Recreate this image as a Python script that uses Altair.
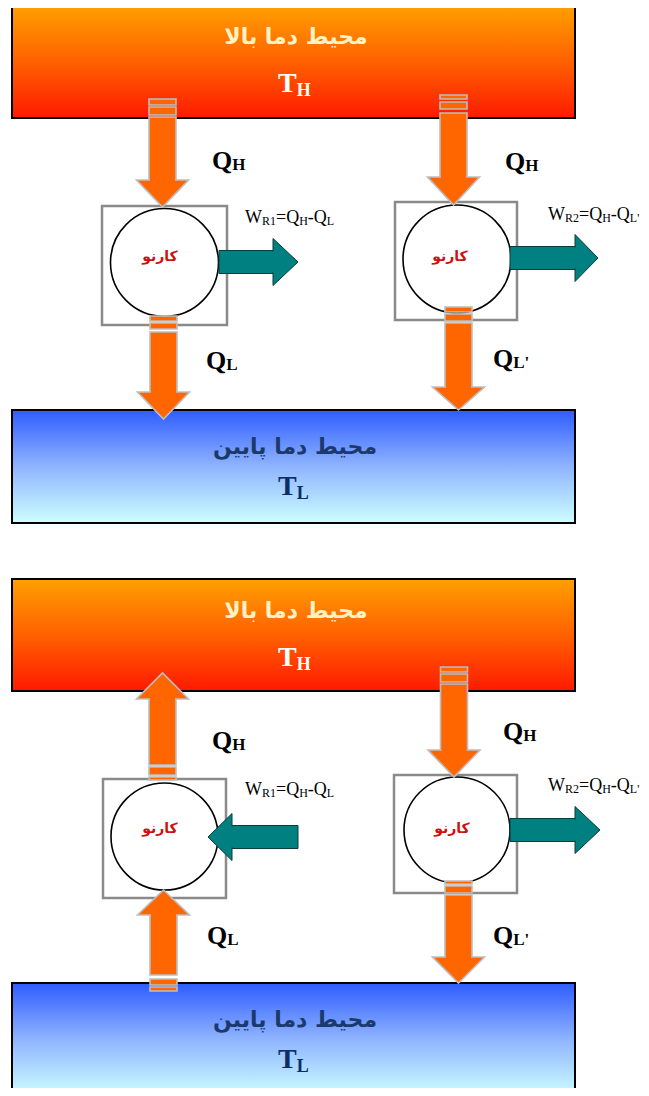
import altair as alt
import pandas as pd

# ---------------- canvas (pixel coordinates of the picture) ----------------
CANVAS_W, CANVAS_H, MARGIN = 649, 1096, 8

# ---------------- reservoirs ----------------
res_x1 = [12, 12, 12, 12]
res_x2 = [575, 575, 575, 575]
res_y1 = [5, 410, 579, 983]
res_y2 = [118, 523, 691, 1096]
res_kind = ["hot", "cold", "hot", "cold"]
res_title = {"hot": "محیط دما بالا", "cold": "محیط دما پایین"}
res_title_y = [37, 447, 611, 1020]
res_title_x = [296, 295, 296, 295]
res_T_sub = ["H", "L", "H", "L"]
res_T_x = [278, 278, 278, 278]
res_T_base = [92, 495, 666, 1068]

# ---------------- engines (box + circle) ----------------
box_x1 = [102, 395, 103, 394]
box_x2 = [227, 517, 226, 517]
box_y1 = [206, 202, 779, 775]
box_y2 = [325, 320, 898, 893]
circ_cx = [164.5, 457, 164.5, 457]
circ_cy = [262.5, 259, 836.5, 830]
circ_d = [108, 108, 107, 106]
carnot_x = [160, 450, 160, 452]
carnot_y = [257, 257, 829, 829]
carnot_text = "کارنو"

# ---------------- heat arrows (orange, vertical) ----------------
q_cx = [162.5, 163.5, 453.5, 458.5, 162.5, 163.5, 454, 458.5]
q_tail = [117, 332, 113, 323, 765, 975, 684, 895]
q_base = [180, 392, 177, 387, 699, 915, 750, 957]
q_tip = [207, 419, 205, 410, 673, 890, 777, 983]
q_stripes = [
    [(99, 105), (107, 115)],
    [(316, 321), (323, 329)],
    [(95, 99), (102, 109)],
    [(307, 312), (314, 321)],
    [(767, 775), (777, 780)],
    [(979, 985), (987, 991)],
    [(667, 672), (674, 682)],
    [(881, 884), (886, 893)],
]
Q_SHAFT_HALF, Q_HEAD_HALF = 13.5, 26

# ---------------- work arrows (teal, horizontal) ----------------
w_cy = [262, 258, 837, 830]
w_tail = [219, 510, 298, 510]
w_base = [273, 575, 232, 575]
w_tip = [298, 598, 208, 600]
W_SHAFT_HALF, W_HEAD_HALF = 11.5, 23.5

# ---------------- labels ----------------
ql_x = [212, 206, 505, 493, 212, 207, 503, 493]
ql_base = [169, 369, 170, 367, 749, 944, 740, 944]
ql_sub = ["H", "L", "H", "L'", "H", "L", "H", "L'"]
wl_x = [245, 548, 245, 548]
wl_base = [223, 220, 795, 791]
wl_idx = ["R1", "R2", "R1", "R2"]
wl_last = ["L", "L'", "L", "L'"]

ORANGE, GREY = "#FF6600", "#BDBDBD"
TEAL, TEAL_EDGE = "#008080", "#0A3C3C"

# ---------------- build tables ----------------
res_df = pd.DataFrame(dict(x=res_x1, x2=res_x2, y=res_y1, y2=res_y2, kind=res_kind))
hot_df = res_df[res_df.kind == "hot"]
cold_df = res_df[res_df.kind == "cold"]

box_df = pd.DataFrame(dict(x=box_x1, x2=box_x2, y=box_y1, y2=box_y2))
circ_df = pd.DataFrame(dict(x=circ_cx, y=circ_cy, s=[d * d for d in circ_d]))
carnot_df = pd.DataFrame(dict(x=carnot_x, y=carnot_y, t=[carnot_text] * 4))

shaft_rows, stripe_rows, head_rows, patch_rows = [], [], [], []
for i, cx in enumerate(q_cx):
    shaft_rows.append(dict(x=cx - Q_SHAFT_HALF, x2=cx + Q_SHAFT_HALF,
                           y=min(q_tail[i], q_base[i]), y2=max(q_tail[i], q_base[i])))
    for a, b in q_stripes[i]:
        stripe_rows.append(dict(x=cx - Q_SHAFT_HALF, x2=cx + Q_SHAFT_HALF, y=a, y2=b))
    for dx, yy in [(-Q_HEAD_HALF, q_base[i]), (0, q_tip[i]), (Q_HEAD_HALF, q_base[i])]:
        head_rows.append(dict(id=i, x=cx + dx, y=q_base[i], y2=yy))
    patch_rows.append(dict(x=cx - Q_SHAFT_HALF + 1, x2=cx + Q_SHAFT_HALF - 1,
                           y=q_base[i] - 2, y2=q_base[i] + 2))
shaft_df = pd.DataFrame(shaft_rows)
stripe_df = pd.DataFrame(stripe_rows)
head_df = pd.DataFrame(head_rows)
patch_df = pd.DataFrame(patch_rows)

wshaft_rows, whead_rows, wpatch_rows = [], [], []
for i, cy in enumerate(w_cy):
    wshaft_rows.append(dict(x=min(w_tail[i], w_base[i]), x2=max(w_tail[i], w_base[i]),
                            y=cy - W_SHAFT_HALF, y2=cy + W_SHAFT_HALF))
    for dy, xx in [(-W_HEAD_HALF, w_base[i]), (0, w_tip[i]), (W_HEAD_HALF, w_base[i])]:
        whead_rows.append(dict(id=i, y=cy + dy, x=w_base[i], x2=xx))
    wpatch_rows.append(dict(x=w_base[i] - 2, x2=w_base[i] + 2,
                            y=cy - W_SHAFT_HALF + 1, y2=cy + W_SHAFT_HALF - 1))
wshaft_df = pd.DataFrame(wshaft_rows)
whead_df = pd.DataFrame(whead_rows)
wpatch_df = pd.DataFrame(wpatch_rows)

# text layout (Times-like advance widths, em units)
REG = {"W": .944, "R": .667, "1": .5, "2": .5, "=": .564, "Q": .722, "H": .722,
       "-": .333, "L": .611, "'": .18, "T": .611}
BOLD = {"Q": .778, "H": .778, "L": .667, "T": .667, "'": .278}


def lay(parts, x0, base, main, sub, bold, drop, color, rows):
    x = x0
    table = BOLD if bold else REG
    for txt, is_sub in parts:
        s = sub if is_sub else main
        rows.append(dict(x=x, y=base + (drop if is_sub else 0), t=txt, s=s, c=color))
        x += sum(table.get(ch, .5) for ch in txt) * s


bold_rows, reg_rows = [], []
for i in range(len(ql_x)):
    lay([("Q", False), (ql_sub[i], True)], ql_x[i], ql_base[i], 26, 17, True, 1, "#000000", bold_rows)
for i in range(len(res_T_x)):
    col = "#FFFFFF" if res_kind[i] == "hot" else "#0B2E66"
    lay([("T", False), (res_T_sub[i], True)], res_T_x[i], res_T_base[i], 28, 18, True, 4, col, bold_rows)
for i in range(len(wl_x)):
    lay([("W", False), (wl_idx[i], True), ("=Q", False), ("H", True), ("-Q", False), (wl_last[i], True)],
        wl_x[i], wl_base[i], 18, 12, False, 2, "#000000", reg_rows)
bold_df = pd.DataFrame(bold_rows)
reg_df = pd.DataFrame(reg_rows)

title_df = pd.DataFrame(dict(
    x=res_title_x, y=res_title_y, t=[res_title[k] for k in res_kind],
    c=["#FFF2C4" if k == "hot" else "#1B3A6B" for k in res_kind]))

# ---------------- scales: picture pixel == page pixel ----------------
PLOT_W = CANVAS_W - 2 * MARGIN
PLOT_H = CANVAS_H - 2 * MARGIN
XS = alt.Scale(domain=[MARGIN, MARGIN + PLOT_W], nice=False, zero=False)
YS = alt.Scale(domain=[MARGIN, MARGIN + PLOT_H], nice=False, zero=False, reverse=True)
X = alt.X("x:Q", scale=XS, axis=None)
Y = alt.Y("y:Q", scale=YS, axis=None)


def rects(df, **mark):
    return alt.Chart(df).mark_rect(**mark).encode(x=X, x2="x2:Q", y=Y, y2="y2:Q")


hot_grad = alt.Gradient(gradient="linear", x1=0, x2=0, y1=0, y2=1,
                        stops=[alt.GradientStop(color="#FFA000", offset=0),
                               alt.GradientStop(color="#FF5A00", offset=0.55),
                               alt.GradientStop(color="#FF1A00", offset=1)])
cold_grad = alt.Gradient(gradient="linear", x1=0, x2=0, y1=0, y2=1,
                         stops=[alt.GradientStop(color="#2E5CFF", offset=0),
                                alt.GradientStop(color="#8FB4FF", offset=0.5),
                                alt.GradientStop(color="#CCFFFF", offset=1)])

layers = [
    rects(hot_df, fill=hot_grad, stroke="#000000", strokeWidth=2),
    rects(cold_df, fill=cold_grad, stroke="#000000", strokeWidth=2),
    rects(box_df, fill="#FFFFFF", stroke="#8A8A8A", strokeWidth=2.5),
    alt.Chart(circ_df).mark_point(shape="circle", filled=False, fill="#FFFFFF", fillOpacity=1,
                                  stroke="#000000", strokeWidth=1.6, opacity=1).encode(
        x=X, y=Y, size=alt.Size("s:Q", scale=None)),
    rects(shaft_df, fill=ORANGE, stroke=GREY, strokeWidth=1.6),
    rects(stripe_df, fill=ORANGE, stroke=GREY, strokeWidth=1.6),
    alt.Chart(head_df).mark_area(orient="vertical", fill=ORANGE, stroke=GREY, strokeWidth=1.6,
                                 opacity=1, interpolate="linear").encode(
        x=X, y=Y, y2="y2:Q", detail="id:N"),
    rects(patch_df, fill=ORANGE),
    rects(wshaft_df, fill=TEAL, stroke=TEAL_EDGE, strokeWidth=1),
    alt.Chart(whead_df).mark_area(orient="horizontal", fill=TEAL, stroke=TEAL_EDGE, strokeWidth=1,
                                  opacity=1, interpolate="linear").encode(
        y=Y, x=X, x2="x2:Q", detail="id:N"),
    rects(wpatch_df, fill=TEAL),
    alt.Chart(title_df).mark_text(align="center", baseline="middle", font="DejaVu Sans",
                                  fontWeight="bold", fontSize=22).encode(
        x=X, y=Y, text="t:N", color=alt.Color("c:N", scale=None)),
    alt.Chart(carnot_df).mark_text(align="center", baseline="middle", font="DejaVu Sans",
                                   fontWeight="bold", fontSize=14, color="#D01010").encode(
        x=X, y=Y, text="t:N"),
    alt.Chart(bold_df).mark_text(align="left", baseline="alphabetic", font="Liberation Serif",
                                 fontWeight="bold").encode(
        x=X, y=Y, text="t:N", size=alt.Size("s:Q", scale=None), color=alt.Color("c:N", scale=None)),
    alt.Chart(reg_df).mark_text(align="left", baseline="alphabetic", font="Liberation Serif").encode(
        x=X, y=Y, text="t:N", size=alt.Size("s:Q", scale=None), color=alt.Color("c:N", scale=None)),
]

chart = alt.layer(*layers).properties(
    width=PLOT_W, height=PLOT_H, padding=0,
    autosize=alt.AutoSizeParams(type="none"), background="#FFFFFF",
).configure_view(stroke=None)

chart.save("out.html", embed_options={"renderer": "svg", "actions": False})
